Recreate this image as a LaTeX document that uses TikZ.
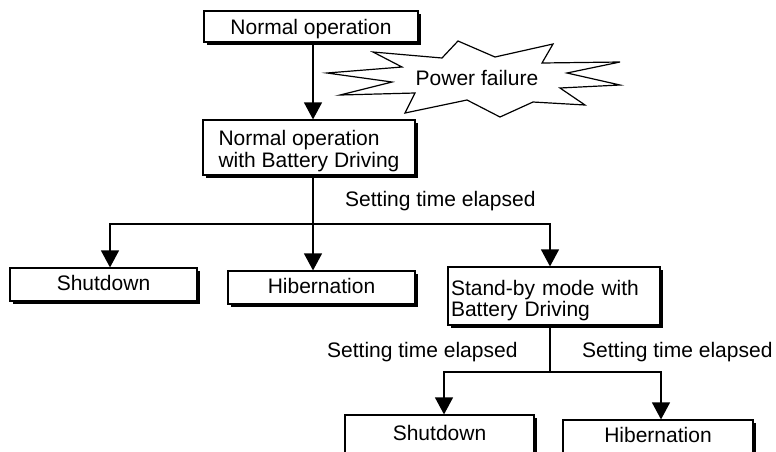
\documentclass[tikz,border=0pt]{standalone}
\usepackage{fontspec}
\setmainfont{Liberation Sans}
\usetikzlibrary{arrows.meta,shadows}
\begin{document}
\begin{tikzpicture}[x=1pt,y=-1pt,
  txt/.style={font=\fontsize{21}{21.5}\selectfont},
  box/.style={txt, draw=black, line width=1.2pt, fill=white, inner sep=0pt,
    general shadow={fill=black, shadow xshift=3pt, shadow yshift=-3pt}},
  conn/.style={line width=1.2pt},
  arr/.style={conn, -{Triangle[width=18pt,length=17pt]}},
  lbl/.style={txt, inner sep=0pt, anchor=base west},
  burst/.style={draw=black, line width=1.2pt, fill=white, line join=miter}]
\useasboundingbox (0,0) rectangle (776,451);
\clip (0,0) rectangle (776,451);

% power failure burst
\draw[burst] (327,73) -- (402,67) -- (373,52) -- (442,58) -- (458,41) -- (495,57)
  -- (553,44) -- (542,63) -- (620,62) -- (567,73) -- (620,85) -- (560,88)
  -- (585,105) -- (533,102) -- (500,117) -- (467,100) -- (405,113) -- (415,93)
  -- (340,95) -- (392,82) -- cycle;
\node[lbl, anchor=base] (pf) at (477,85) {Power failure};

% boxes
\node[box, minimum width=214pt, minimum height=31pt, text height=15pt, text depth=0pt]
  (n1) at (311,26.5) {Normal operation};
\node[box, minimum width=212pt, minimum height=55pt, align=left]
  (n2) at (309,147.5) {\rule{0pt}{22pt}Normal operation\\with Battery Driving};
\node[box, minimum width=187pt, minimum height=33pt, text height=15pt, text depth=3pt]
  (shut) at (103.5,284.5) {Shutdown};
\node[box, minimum width=187pt, minimum height=33pt, text height=15pt, text depth=3pt]
  (hib) at (321.5,287.5) {Hibernation};
\node[box, minimum width=212pt, minimum height=58pt, text width=206pt, align=left]
  (stby) at (554,296) {\rule{0pt}{24pt}Stand-by mode with\\Battery Driving};
\node[box, minimum width=189pt, minimum height=38pt, text height=15pt, text depth=3pt]
  (shut2) at (439.5,434) {Shutdown};
\node[box, minimum width=190pt, minimum height=36pt, text height=15pt, text depth=7pt]
  (hib2) at (658,438) {Hibernation};

% junctions
\coordinate (j1) at (313,224);
\coordinate (cl) at (110,224);
\coordinate (cr) at (550,224);
\coordinate (j2) at (550,372);
\coordinate (dl) at (444,372);
\coordinate (dr) at (661,372);

% connectors
\draw[arr] (n1.south -| j1) -- (n2.north -| j1);
\draw[conn] (n2.south -| j1) -- (j1);
\draw[arr] (j1) -- (hib.north -| j1);
\draw[arr] (j1) -- (cl) -- (shut.north -| cl);
\draw[arr] (j1) -- (cr) -- (stby.north -| cr);
\draw[conn] (stby.south -| j2) -- (j2);
\draw[arr] (j2) -- (dl) -- (shut2.north -| dl);
\draw[arr] (j2) -- (dr) -- (hib2.north -| dr);

% labels
\node[lbl] (t1) at (345,206) {Setting time elapsed};
\node[lbl] (t2) at (327,357) {Setting time elapsed};
\node[lbl] (t3) at (582,357) {Setting time elapsed};
\end{tikzpicture}
\end{document}
